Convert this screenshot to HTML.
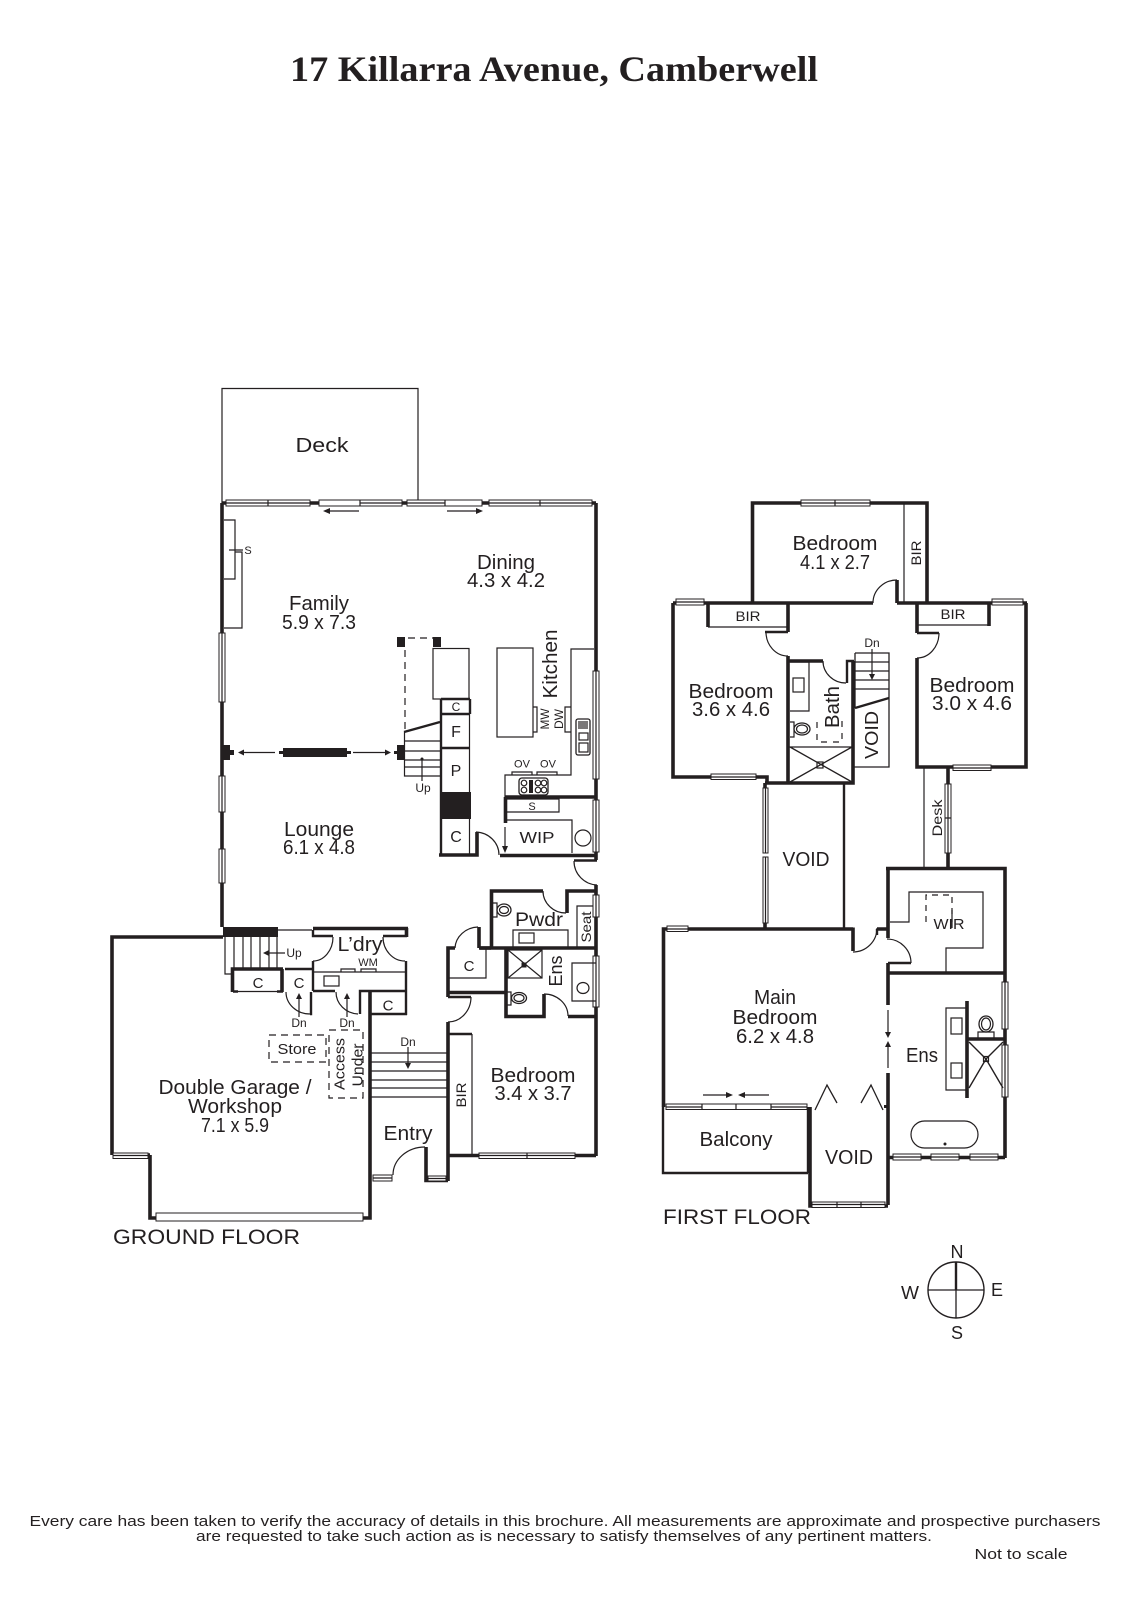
<!DOCTYPE html>
<html><head><meta charset="utf-8"><title>17 Killarra Avenue, Camberwell</title>
<style>
html,body{margin:0;padding:0;background:#fff}
svg{display:block}
text{font-family:"Liberation Sans",sans-serif;fill:#231f20;text-anchor:middle}
.w{fill:none;stroke:#231f20;stroke-width:3.6}
.m{fill:none;stroke:#231f20;stroke-width:2.4}
.t{fill:none;stroke:#231f20;stroke-width:1.2}
.d{fill:none;stroke:#231f20;stroke-width:1.2;stroke-dasharray:7 5}
.b{fill:#231f20;stroke:none}
.win{fill:#fff;stroke:#231f20;stroke-width:1}
.l{font-size:20px}.s{font-size:15px}.x{font-size:11px}
</style></head><body>
<svg width="1131" height="1600" viewBox="0 0 1131 1600" xmlns="http://www.w3.org/2000/svg">
<rect width="1131" height="1600" fill="#fff"/>
<text x="554" y="81" style="font-family:'Liberation Serif',serif;font-weight:bold;font-size:36px" textLength="528" lengthAdjust="spacingAndGlyphs">17 Killarra Avenue, Camberwell</text>

<!-- GROUND FLOOR -->
<path class="t" d="M222 503V388.5H418V500"/>
<path class="w" d="M222 503V927M596 503V860M222 503H596"/>
<!-- top windows -->
<g>
<rect class="win" x="226" y="500" width="84" height="6"/><path class="t" d="M226 503H310M268 500V506"/>
<rect class="win" x="319" y="500" width="83" height="6"/><path class="t" d="M360 503H402M360 500V506"/>
<rect class="win" x="407" y="500" width="75" height="6"/><path class="t" d="M407 503H445M445 500V506"/>
<rect class="win" x="489" y="500" width="103" height="6"/><path class="t" d="M489 503H592M540 500V506"/>
</g>
<path class="t" d="M328 511H359M447 511H478"/><path class="b" d="M323 511l7-3v6zM483 511l-7-3v6z"/>
<!-- left windows -->
<g>
<rect class="win" x="219" y="633" width="6" height="69"/><rect class="win" x="219" y="776" width="6" height="36"/><rect class="win" x="219" y="849" width="6" height="34"/>
<path class="t" d="M222 633V702M222 776V812M222 849V883"/>
</g>
<!-- fireplace -->
<path class="t" d="M224 520H235V579H224M235 552H242V628H224M229 550H243"/>
<text x="248" y="554" class="x">S</text>
<!-- pier and screen -->
<rect class="b" x="223" y="745" width="7" height="15"/><rect class="b" x="230" y="750" width="4" height="5"/>
<rect class="b" x="283" y="748" width="64" height="9"/><rect class="b" x="279" y="751" width="4" height="3"/><rect class="b" x="347" y="751" width="4" height="3"/>
<path class="t" d="M240 752.5H275M353 752.5H388"/><path class="b" d="M238 752.5l6-3v6zM391 752.5l-6-3v6z"/>
<rect class="b" x="397" y="745" width="8" height="15"/><rect class="b" x="394" y="751" width="3" height="3"/>
<!-- dashed void -->
<rect class="b" x="397" y="637" width="8" height="10"/><rect class="b" x="433" y="637" width="8" height="10"/>
<path class="d" d="M408 638H433M405 650V732"/>
<rect class="t" x="433" y="648.5" width="36" height="50.5"/>
<!-- stair -->
<path class="t" d="M404.500 732V776H440M404 741H440M404 751H440M404 760H440M404 767H440"/>
<path class="m" d="M404 732L440 722"/>
<path class="t" d="M422 758V781"/><circle cx="422" cy="759" r="1.500" class="b"/>
<text x="423" y="792" class="x" style="font-size:12px">Up</text>
<!-- core -->
<path class="m" d="M441 699V855M470 699V714M441 699H470M441 714H470M441 748H470"/>
<path class="t" d="M469.500 714V792M469.500 819V855M441 714H470"/>
<rect class="b" x="440" y="792" width="31" height="27"/>
<text x="456" y="711" class="x" style="font-size:12px">C</text>
<text x="456" y="737" class="s" style="font-size:16px">F</text>
<text x="456" y="776" class="s" style="font-size:16px">P</text>
<text x="456" y="842" class="s" style="font-size:16px">C</text>
<path class="w" d="M439 855H477V832"/>
<path class="t" d="M476 832A24 23 0 0 1 499 855"/>
<path class="w" d="M500 855.500H596M505.500 797V823M505 797H596"/>
<path class="t" d="M505 827V848"/><path class="b" d="M505 853l-3-7h6z"/>
<path class="t" d="M507 799H559V812H507M506 820H572V853M572 820V853"/>
<text x="532" y="810" class="x">S</text>
<text x="537" y="843" style="font-size:16px" textLength="35" lengthAdjust="spacingAndGlyphs">WIP</text>
<circle cx="583" cy="838" r="8" class="t"/>
<!-- kitchen -->
<path class="t" d="M594 649H571V775H505V797"/>
<rect class="t" x="497" y="648" width="36" height="89"/>
<path class="t" d="M533 707H537V732H533M571 707H565V732H571"/>
<text transform="translate(545 719) rotate(-90)" y="4" style="font-size:12px" textLength="21" lengthAdjust="spacingAndGlyphs">MW</text>
<text transform="translate(559 719) rotate(-90)" y="4" style="font-size:12px" textLength="20" lengthAdjust="spacingAndGlyphs">DW</text>
<text transform="translate(550 664) rotate(-90)" y="7" class="l" textLength="69" lengthAdjust="spacingAndGlyphs">Kitchen</text>
<rect x="576" y="719" width="14" height="36" rx="2" class="m" style="stroke-width:1.300"/>
<path class="t" d="M579 721V729M581 721V729M583 721V729M585 721V729M587 721V729"/>
<rect class="t" x="579" y="733" width="9" height="7"/><rect class="t" x="579" y="743" width="9" height="9"/>
<rect class="m" x="519" y="778" width="29" height="17" rx="3" style="stroke-width:1.300"/>
<g class="t"><circle cx="524" cy="783" r="2.800" class="t"/><circle cx="524" cy="790" r="2.800" class="t"/><rect x="529" y="780" width="4" height="13" class="b"/><circle cx="538" cy="783" r="2.800" class="t"/><circle cx="538" cy="790" r="2.800" class="t"/><circle cx="544" cy="783" r="2.800" class="t"/><circle cx="544" cy="790" r="2.800" class="t"/></g>
<path class="t" d="M512 775V772H532V775M537 775V772H557V775"/>
<text x="522" y="767.500" style="font-size:11px">OV</text><text x="548" y="767.500" style="font-size:11px">OV</text>
<rect class="win" x="593" y="671" width="6" height="108"/><rect class="win" x="593" y="800" width="6" height="52"/>
<path class="t" d="M596 671V779M596 800V852"/>
<!-- door right -->
<path class="m" d="M574 860.500H597"/><path class="t" d="M574 861A24 24 0 0 0 597 885"/>
<path class="w" d="M596 885V1156"/>
<!-- pwdr -->
<path class="w" d="M491.500 948V891H543M567 913V891H597M480 948H597"/>
<path class="t" d="M543 891A23 22 0 0 0 566 913"/>
<path class="t" d="M493 903H497V917H493"/><ellipse cx="504" cy="910" rx="7" ry="6" class="m" style="stroke-width:1.300"/><ellipse cx="504" cy="910" rx="4.500" ry="3.500" class="t"/>
<text x="539" y="926" class="l" style="font-size:19px" textLength="48" lengthAdjust="spacingAndGlyphs">Pwdr</text>
<path class="t" d="M594 906H577V948M513 948V930H568V948"/><rect class="t" x="519" y="933" width="15" height="10"/>
<text transform="translate(586 927) rotate(-90)" y="5" style="font-size:14px" textLength="31" lengthAdjust="spacingAndGlyphs">Seat</text>
<rect class="win" x="593" y="895" width="6" height="22"/><rect class="win" x="593" y="956" width="6" height="51"/><path class="t" d="M596 895V917M596 956V1007"/>
<!-- ens -->
<path class="w" d="M506 948V1016.500H544V994M568 1016.500H596"/>
<path class="t" d="M544 994A24 22 0 0 1 568 1016"/>
<rect class="t" x="508" y="950" width="34" height="28"/><path class="t" d="M508 950L542 978M542 950L508 978"/><rect class="b" x="521.500" y="962.500" width="5" height="5"/>
<text transform="translate(556 971) rotate(-90)" y="6" style="font-size:18px" textLength="31" lengthAdjust="spacingAndGlyphs">Ens</text>
<path class="t" d="M596 963H572V1001H596"/><ellipse cx="583" cy="988" rx="6" ry="5.500" class="t"/>
<path class="t" d="M507 992H511V1005H507"/><ellipse cx="519" cy="998" rx="7.500" ry="5.500" class="m" style="stroke-width:1.300"/><ellipse cx="519" cy="998" rx="5" ry="3.500" class="t"/>
<!-- closet and door -->
<path class="w" d="M455 948H448V997M479 948V927M479 948H491M448 992.500H506"/>
<path class="t" d="M455 948A24 22 0 0 1 478 927M486 948V978H448"/>
<text x="469" y="971" class="s">C</text>
<path class="m" d="M448 997H471"/><path class="t" d="M471 997A23 25 0 0 1 448 1022"/>
<path class="w" d="M448 1022V1181M448 1155.500H596"/>
<path class="m" d="M448 1034H472"/><path class="t" d="M472 1034V1154"/>
<text transform="translate(461 1095) rotate(-90)" y="5" style="font-size:14px" textLength="25" lengthAdjust="spacingAndGlyphs">BIR</text>
<rect class="win" x="479" y="1153" width="96" height="5.500"/><path class="t" d="M479 1155.500H575M527 1153V1158"/>
<text x="533" y="1082" class="l" textLength="85" lengthAdjust="spacingAndGlyphs">Bedroom</text>
<text x="533" y="1100" class="l" textLength="77" lengthAdjust="spacingAndGlyphs">3.4 x 3.7</text>
<!-- entry -->
<path class="w" d="M370 991V1218H150V1155M150 1155H147M112 1155V937H223"/>
<path class="t" d="M393 1175A32 28 0 0 1 425 1147"/>
<path class="w" d="M426 1147V1180.500H448"/>
<rect class="win" x="373" y="1175" width="19" height="6"/><rect class="win" x="428" y="1176" width="18" height="5"/><path class="t" d="M373 1178H392M428 1178.500H446"/>
<text x="408" y="1140" class="l" textLength="49" lengthAdjust="spacingAndGlyphs">Entry</text>
<path class="t" d="M371 1053H448M371 1062H448M371 1071H448M371 1080H448M371 1088H448M371 1097H448" style="stroke-width:1.300"/>
<path class="t" d="M408 1047V1066"/><path class="b" d="M408 1069l-3-6h6z"/>
<text x="408" y="1046" style="font-size:12px">Dn</text>
<!-- garage -->
<rect class="win" x="113" y="1153" width="35" height="5.500"/><path class="t" d="M113 1155.500H148"/>
<rect class="win" x="156" y="1213" width="207" height="8"/>
<rect class="b" x="223" y="927" width="55" height="10"/>
<text x="235" y="1094" class="l" textLength="153" lengthAdjust="spacingAndGlyphs">Double Garage /</text>
<text x="235" y="1113" class="l" textLength="94" lengthAdjust="spacingAndGlyphs">Workshop</text>
<text x="235" y="1132" class="l" textLength="68" lengthAdjust="spacingAndGlyphs">7.1 x 5.9</text>
<text x="206.500" y="1244" class="l" textLength="187" lengthAdjust="spacingAndGlyphs" style="font-size:21px">GROUND FLOOR</text>
<!-- garage stair -->
<path class="t" d="M225 937V974H232M234 937V968M243 937V968M251 937V968M260 937V968M269 937V968M277 937V968M278 930H312"/>
<path class="w" d="M232.500 992V969H283M282 969V992"/><path class="t" d="M233 991.500H283"/><path class="m" d="M233 991.500H238M277 991.500H283"/>
<text x="258" y="988" class="s">C</text>
<path class="m" d="M285 969H313"/>
<text x="299" y="988" class="s">C</text>
<path class="m" d="M311 992V1014H310"/><path class="t" d="M286 992A24 22 0 0 0 310 1014"/>
<path class="t" d="M299 1017V996"/><path class="b" d="M299 993l-3 6h6z"/>
<text x="299" y="1027" style="font-size:12px">Dn</text>
<path class="t" d="M285 953H266"/><path class="b" d="M263 953l6-3v6z"/>
<text x="294" y="957" style="font-size:12px">Up</text>
<!-- laundry -->
<path class="w" d="M313 928.500H408M406.500 928V937"/>
<path class="m" d="M313 930V936H333M383 936H407M313 961V991M406 961V1015M313 991H335M360 1014V991H406M370 1014H407"/>
<path class="t" d="M333 937A20 24 0 0 1 313 961M383 937A22 24 0 0 0 405 961"/>
<path class="m" d="M313 972H405" style="stroke-width:1.300"/>
<rect class="t" x="324" y="976" width="15" height="10"/>
<path class="t" d="M341 972V969H355V972M361 972V969H376V972"/>
<text x="368" y="966" style="font-size:11px">WM</text>
<text x="360" y="951" class="l" textLength="45" lengthAdjust="spacingAndGlyphs">L’dry</text>
<path class="t" d="M336 992A23 22 0 0 0 358 1014"/>
<path class="t" d="M347 1017V996"/><path class="b" d="M347 993l-3 6h6z"/>
<text x="347" y="1027" style="font-size:12px">Dn</text>
<text x="388" y="1010.500" class="s">C</text>
<!-- dashed -->
<rect class="d" x="269" y="1035" width="57" height="27"/>
<text x="297" y="1054" class="s" textLength="39" lengthAdjust="spacingAndGlyphs">Store</text>
<rect class="d" x="329" y="1030" width="34" height="68"/>
<text transform="translate(339 1064) rotate(-90)" y="5.500" class="s" textLength="52" lengthAdjust="spacingAndGlyphs">Access</text>
<text transform="translate(357 1065) rotate(-90)" y="5.500" class="s" textLength="43" lengthAdjust="spacingAndGlyphs">Under</text>
<!-- labels -->
<text x="322" y="452" class="l" textLength="53" lengthAdjust="spacingAndGlyphs">Deck</text>
<text x="319" y="610" class="l" textLength="60" lengthAdjust="spacingAndGlyphs">Family</text>
<text x="319" y="629" class="l" textLength="74" lengthAdjust="spacingAndGlyphs">5.9 x 7.3</text>
<text x="506" y="569" class="l" textLength="58" lengthAdjust="spacingAndGlyphs">Dining</text>
<text x="506" y="587" class="l" textLength="78" lengthAdjust="spacingAndGlyphs">4.3 x 4.2</text>
<text x="319" y="836" class="l" textLength="70" lengthAdjust="spacingAndGlyphs">Lounge</text>
<text x="319" y="854" class="l" textLength="72" lengthAdjust="spacingAndGlyphs">6.1 x 4.8</text>

<!-- FIRST FLOOR -->
<path class="w" d="M752.500 603V503H927V603M673 603H873M897 603H1027M897 580V603M673 603V777H767V783"/>
<path class="t" d="M873 603A24 23 0 0 1 897 580"/>
<rect class="win" x="801" y="500" width="69" height="6"/><path class="t" d="M801 503H870M835 500V506"/>
<path class="t" d="M904 503V602"/>
<text transform="translate(916 553) rotate(-90)" y="5" style="font-size:14px" textLength="25" lengthAdjust="spacingAndGlyphs">BIR</text>
<rect class="win" x="676" y="599" width="28" height="6"/><rect class="win" x="711" y="774" width="45" height="5.500"/><path class="t" d="M676 602H704M711 777H756"/>
<path class="w" d="M708 603V627M788 603V632"/><path class="t" d="M708 627H788"/><path class="m" d="M765 632H788"/>
<text x="748" y="621" style="font-size:14px" textLength="25" lengthAdjust="spacingAndGlyphs">BIR</text>
<path class="t" d="M766 632A22 24 0 0 0 788 656"/>
<path class="w" d="M788 656V783M765 783H853V661"/>
<path class="w" d="M788 661H823"/><path class="t" d="M823 661A23 22 0 0 0 846 683"/><path class="m" d="M847 683V661H854"/>
<path class="t" d="M790 662H809V711H790"/><rect class="t" x="793" y="678" width="11" height="14"/>
<path class="t" d="M790 722H794V737H790"/><ellipse cx="802" cy="729" rx="8" ry="6" class="m" style="stroke-width:1.300"/><ellipse cx="802" cy="729" rx="5.500" ry="4" class="t"/>
<text transform="translate(832 707) rotate(-90)" y="7" class="l" textLength="42" lengthAdjust="spacingAndGlyphs">Bath</text>
<path class="d" d="M817 722V742H842V720" style="stroke-dasharray:6 6"/>
<path class="t" d="M788 747H853M790 747L852 782M852 747L790 782" style="stroke-width:1.300"/>
<rect class="t" x="817" y="762" width="6" height="6"/>
<path class="t" d="M855 653H889V767H853M855 662H889M855 671H889M855 680H889M855 689H889M855 653V708" style="stroke-width:1.300"/>
<path class="m" d="M855 708L889 698"/>
<path class="t" d="M872 649V676"/><path class="b" d="M872 680l-3-6h6z"/>
<text x="872" y="647" style="font-size:12px">Dn</text>
<text transform="translate(872 735) rotate(-90)" y="6" class="l" style="font-size:18px" textLength="48" lengthAdjust="spacingAndGlyphs">VOID</text>
<!-- right bedroom -->
<path class="w" d="M917 603V633M917 658V767H1026V603"/>
<path class="m" d="M917 633H939"/><path class="t" d="M939 633A22 25 0 0 1 917 658"/>
<rect class="win" x="953" y="765" width="38" height="5.500"/><rect class="win" x="992" y="599" width="31" height="6"/><path class="t" d="M953 768H991M992 602H1023"/>
<path class="t" d="M918 625H989"/><path class="w" d="M989 603V626"/>
<text x="953" y="619" style="font-size:14px" textLength="25" lengthAdjust="spacingAndGlyphs">BIR</text>
<!-- text bedrooms -->
<text x="835" y="550" class="l" textLength="85" lengthAdjust="spacingAndGlyphs">Bedroom</text>
<text x="835" y="569" class="l" textLength="70" lengthAdjust="spacingAndGlyphs">4.1 x 2.7</text>
<text x="731" y="698" class="l" textLength="85" lengthAdjust="spacingAndGlyphs">Bedroom</text>
<text x="731" y="716" class="l" textLength="78" lengthAdjust="spacingAndGlyphs">3.6 x 4.6</text>
<text x="972" y="692" class="l" textLength="85" lengthAdjust="spacingAndGlyphs">Bedroom</text>
<text x="972" y="710" class="l" textLength="80" lengthAdjust="spacingAndGlyphs">3.0 x 4.6</text>
<!-- desk -->
<path class="t" d="M924 768V868"/>
<path class="w" d="M948 768V784M948 853V868"/>
<rect class="win" x="945" y="784" width="6" height="69"/><path class="t" d="M948 784V853M945 818H951"/>
<text transform="translate(937 818) rotate(-90)" y="5" style="font-size:14px" textLength="37" lengthAdjust="spacingAndGlyphs">Desk</text>
<!-- void -->
<rect class="win" x="763" y="788" width="5" height="65"/><rect class="win" x="763" y="857" width="5" height="66"/><path class="t" d="M765.500 788V853M765.500 857V923"/>
<path class="w" d="M765 783V788M765 923V929"/>
<path class="m" d="M844 783V929"/>
<text x="806" y="866" class="l" textLength="47" lengthAdjust="spacingAndGlyphs">VOID</text>
<!-- main bedroom -->
<path class="w" d="M853 929H663.500V1107M853 927.500V951M877 929H888M888 870V938M886 868.500H1005V1158M888 973H1005M888 963V1005M888 1073V1205"/>
<path class="t" d="M853 952A24 24 0 0 0 877 928M887 939A24 24 0 0 1 911 963"/>
<path class="m" d="M888 963H911M877 929V935"/>
<rect class="win" x="667" y="926" width="21" height="5.500"/><path class="t" d="M667 929H688"/>
<path class="t" d="M888 1010V1035M888 1044V1068"/><path class="b" d="M888 1038l-3-6h6zM888 1041l-3 6h6z"/>
<path class="t" d="M890 922H909V892H983V948H946V973"/>
<path class="d" d="M926 922V895H952V922" style="stroke-dasharray:6 5"/><path class="t" d="M952 910V928"/>
<text x="949" y="929" style="font-size:15px" textLength="31" lengthAdjust="spacingAndGlyphs">WIR</text>
<text x="775" y="1004" class="l" textLength="42" lengthAdjust="spacingAndGlyphs">Main</text>
<text x="775" y="1024" class="l" textLength="85" lengthAdjust="spacingAndGlyphs">Bedroom</text>
<text x="775" y="1043" class="l" textLength="78" lengthAdjust="spacingAndGlyphs">6.2 x 4.8</text>
<!-- ensuite first -->
<rect class="win" x="1002" y="982" width="6" height="47"/><rect class="win" x="1002" y="1045" width="6" height="52"/><path class="t" d="M1005 982V1029M1005 1045V1097"/>
<path class="w" d="M888 1157.500H1005"/>
<rect class="win" x="893" y="1154" width="28" height="6"/><rect class="win" x="931" y="1154" width="28" height="6"/><rect class="win" x="970" y="1154" width="28" height="6"/>
<path class="t" d="M893 1157H921M931 1157H959M970 1157H998"/>
<rect class="t" x="911" y="1121" width="67" height="27" rx="13.500"/><circle cx="945" cy="1144" r="1.500" class="b"/>
<path class="t" d="M967 1008H946V1090H967"/><rect class="t" x="951" y="1018" width="11" height="16"/><rect class="t" x="951" y="1063" width="11" height="15"/>
<path class="w" d="M967 1001V1098M967 1039H1004"/>
<path class="t" d="M969 1042L986 1059L1003 1042M969 1088L986 1059L1003 1088" style="stroke-width:1.400"/><rect class="t" x="983.500" y="1056.500" width="5" height="5"/>
<ellipse cx="986" cy="1024" rx="7" ry="8" class="m" style="stroke-width:1.300"/><ellipse cx="986" cy="1024" rx="4.500" ry="6" class="t"/>
<path class="t" d="M978 1039V1032H994V1039"/>
<text x="922" y="1062" class="l" textLength="32" lengthAdjust="spacingAndGlyphs">Ens</text>
<!-- bottom -->
<rect class="win" x="666" y="1104" width="141" height="5.500"/>
<path class="t" d="M666 1107H702M771 1107H807M702 1104V1109M736 1104V1109M771 1104V1109"/>
<path class="t" d="M703 1095H729M743 1095H769"/><path class="b" d="M733 1095l-7-3v6zM738 1095l7-3v6z"/>
<path class="m" d="M663 1107V1173H808M808 1107V1173"/>
<text x="736" y="1146" class="l" textLength="73" lengthAdjust="spacingAndGlyphs">Balcony</text>
<path class="w" d="M810 1107V1206H888"/>
<rect class="win" x="812" y="1202" width="73" height="5.500"/><path class="t" d="M812 1204.500H885M837 1202V1207M861 1202V1207"/>
<text x="849" y="1164" class="l" textLength="48" lengthAdjust="spacingAndGlyphs">VOID</text>
<path class="t" d="M815 1110L827 1085L837 1103M861 1103L871 1085L883 1110" style="stroke-width:1.300"/>
<rect class="b" x="884" y="1105" width="3" height="3"/>
<text x="737" y="1224" class="l" textLength="148" lengthAdjust="spacingAndGlyphs" style="font-size:21px">FIRST FLOOR</text>
<!-- compass -->
<circle cx="956" cy="1290" r="28" class="t" style="stroke-width:1.400"/>
<path class="t" d="M928 1290H984M956 1290V1318" style="stroke-width:1.300"/>
<path class="m" d="M956 1262V1290"/>
<text x="957" y="1258" style="font-size:18px">N</text>
<text x="910" y="1299" style="font-size:18px" textLength="18" lengthAdjust="spacingAndGlyphs">W</text>
<text x="997" y="1296" style="font-size:18px">E</text>
<text x="957" y="1339" style="font-size:18px">S</text>
<!-- footer -->
<text x="565" y="1526" style="font-size:14.500px" textLength="1071" lengthAdjust="spacingAndGlyphs">Every care has been taken to verify the accuracy of details in this brochure.  All measurements are approximate and prospective purchasers</text>
<text x="564" y="1541" style="font-size:14.500px" textLength="736" lengthAdjust="spacingAndGlyphs">are requested to take such action as is necessary to satisfy themselves of any pertinent matters.</text>
<text x="1021" y="1559" style="font-size:14.500px" textLength="93" lengthAdjust="spacingAndGlyphs">Not to scale</text>
</svg>
</body></html>
